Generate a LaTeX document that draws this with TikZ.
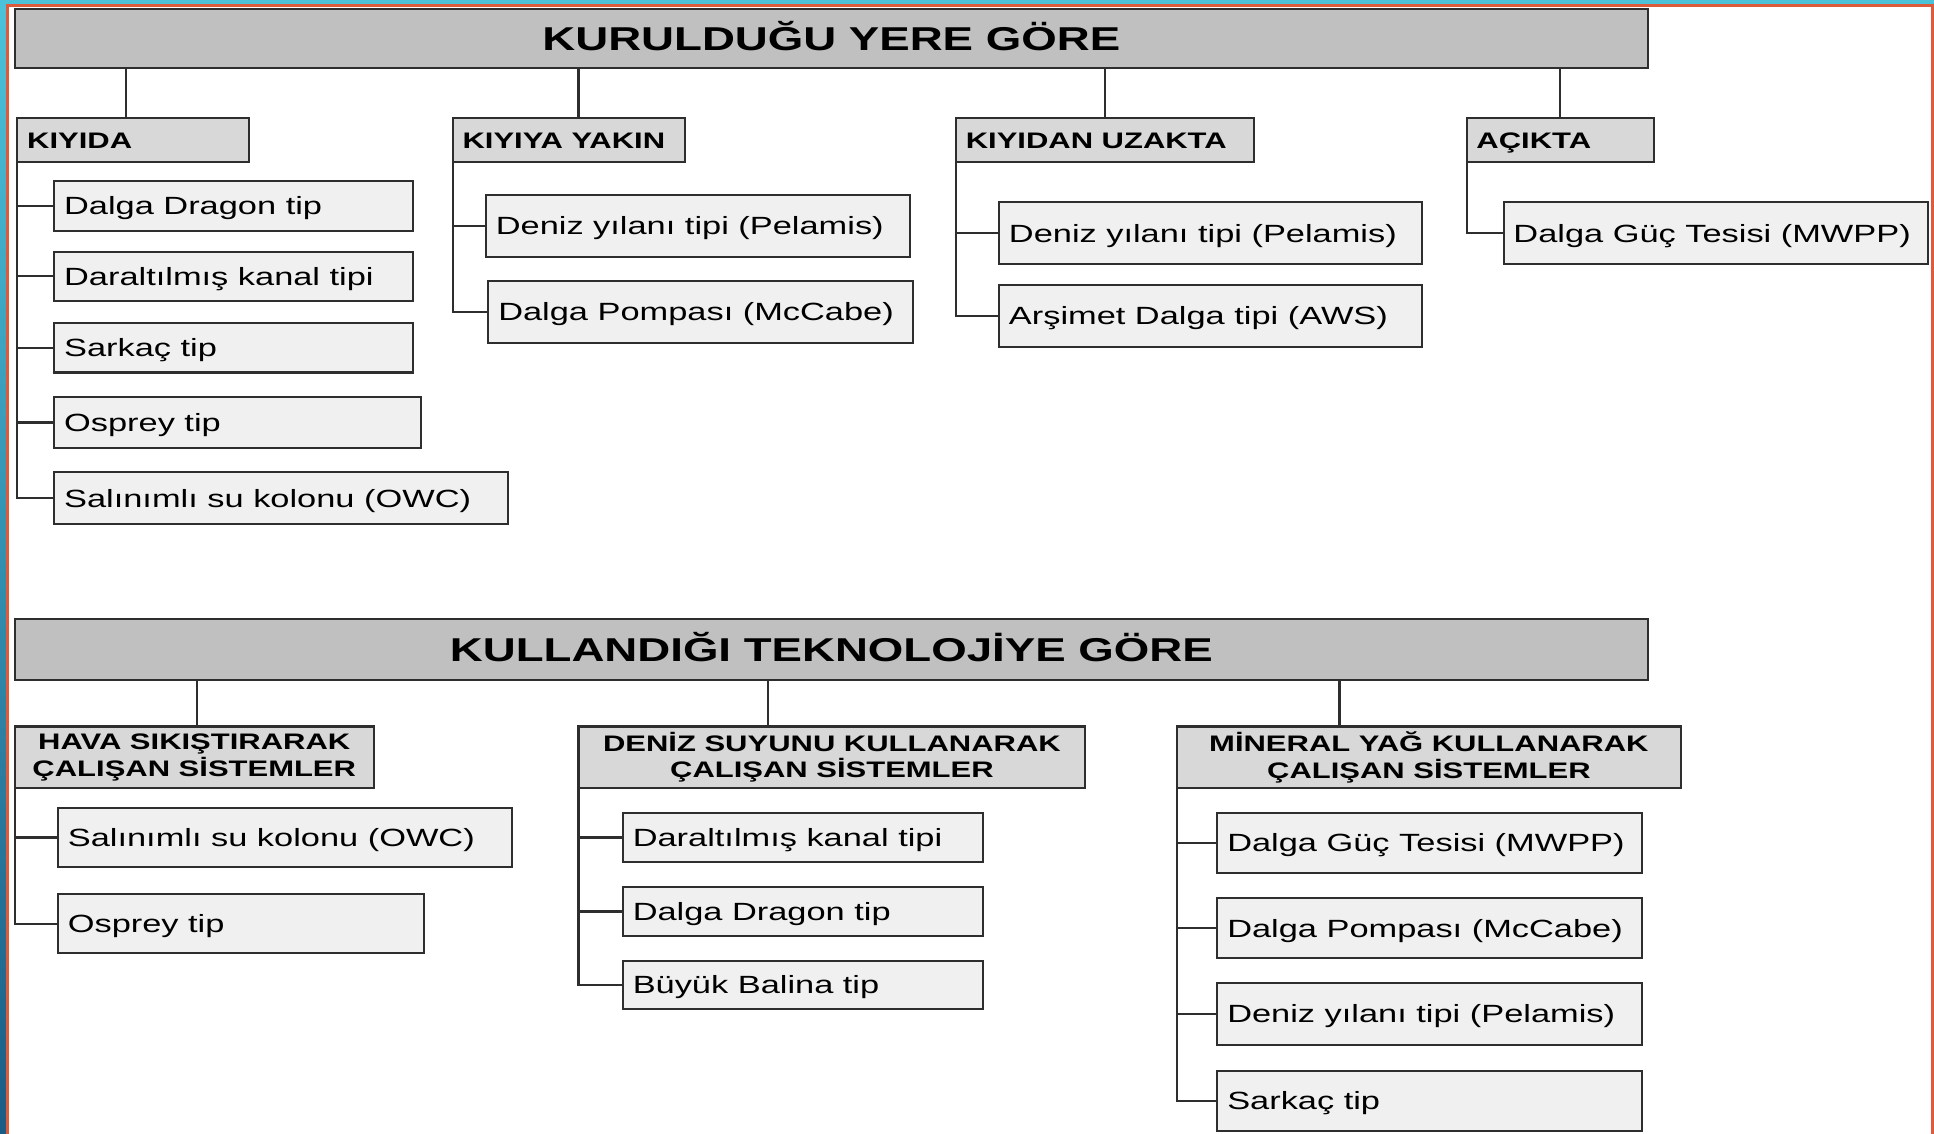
\documentclass[tikz,border=0pt]{standalone}
\usepackage{fontspec}
\setmainfont{Liberation Sans}[FakeStretch=1.38]
\definecolor{lc}{HTML}{2E2E2E}
\definecolor{hdrfill}{HTML}{C0C0C0}
\definecolor{catfill}{HTML}{D8D8D8}
\definecolor{itemfill}{HTML}{F0F0F0}
\definecolor{framecyan}{HTML}{4CC2D9}
\definecolor{frameblue}{HTML}{1B5C84}
\definecolor{frameorange}{HTML}{DD5B3C}
\newcommand\mystrut{\rule[-0.284em]{0pt}{1.284em}}
\newcommand\lbox[7]{%
  \pgfmathsetmacro\mybw{#5-#3}%
  \pgfmathsetmacro\mybh{#6-#4}%
  \pgfmathsetmacro\mybx{(#3+#5)/2}%
  \pgfmathsetmacro\myby{(#4+#6)/2}%
  \pgfmathsetmacro\mytw{#5-#3-16}%
  \node[#1, minimum width=\mybw pt, minimum height=\mybh pt] (#2) at (\mybx,\myby) {\makebox[\mytw pt][l]{\mystrut#7}};%
}
\newcommand\cbox[7]{%
  \pgfmathsetmacro\mybw{#5-#3}%
  \pgfmathsetmacro\mybh{#6-#4}%
  \pgfmathsetmacro\mybx{(#3+#5)/2}%
  \pgfmathsetmacro\myby{(#4+#6)/2}%
  \node[#1, minimum width=\mybw pt, minimum height=\mybh pt] (#2) at (\mybx,\myby) {#7};%
}
\begin{document}
\begin{tikzpicture}[x=1pt,y=-1pt,
  base/.style={draw=lc, line width=1.7pt, inner sep=0pt, outer sep=0pt, text=black},
  hdr/.style={base, fill=hdrfill, font=\fontsize{26.8}{30}\selectfont\bfseries},
  cat/.style={base, fill=catfill, font=\fontsize{18.2}{21.5}\selectfont\bfseries},
  cattwo/.style={cat, align=center},
  itm/.style={base, fill=itemfill, font=\fontsize{20.2}{24}\selectfont},
  conn/.style={draw=lc, line width=1.7pt}]
\useasboundingbox (0,0) rectangle (1568,919);
\fill[white] (0,0) rectangle (1568,919);

% ---------- top section ----------
\cbox{hdr}{hdrA}{12}{7}{1336}{55}{\mystrut KURULDUĞU YERE GÖRE}
\lbox{cat}{catA1}{14}{96}{202}{131}{KIYIDA}
\lbox{cat}{catA2}{367}{96}{555}{131}{KIYIYA YAKIN}
\lbox{cat}{catA3}{775}{96}{1017}{131}{KIYIDAN UZAKTA}
\lbox{cat}{catA4}{1189}{96}{1341}{131}{AÇIKTA}

\lbox{itm}{a11}{44}{147}{335}{187}{Dalga Dragon tip}
\lbox{itm}{a12}{44}{204}{335}{244}{Daraltılmış kanal tipi}
\lbox{itm}{a13}{44}{262}{335}{302}{Sarkaç tip}
\lbox{itm}{a14}{44}{322}{341}{363}{Osprey tip}
\lbox{itm}{a15}{44}{383}{412}{425}{Salınımlı su kolonu (OWC)}

\lbox{itm}{a21}{394}{158}{738}{208}{Deniz yılanı tipi (Pelamis)}
\lbox{itm}{a22}{396}{228}{740}{278}{Dalga Pompası (McCabe)}

\lbox{itm}{a31}{810}{164}{1153}{214}{Deniz yılanı tipi (Pelamis)}
\lbox{itm}{a32}{810}{231}{1153}{281}{Arşimet Dalga tipi (AWS)}

\lbox{itm}{a41}{1219}{164}{1563}{214}{Dalga Güç Tesisi (MWPP)}

\draw[conn] ([xshift=-6pt]catA1.north) -- ([xshift=-6pt]catA1.north |- hdrA.south);
\draw[conn] ([xshift=8pt]catA2.north) -- ([xshift=8pt]catA2.north |- hdrA.south);
\draw[conn] (catA3.north) -- (catA3.north |- hdrA.south);
\draw[conn] (catA4.north) -- (catA4.north |- hdrA.south);

\foreach \i in {a11,a12,a13,a14,a15} \draw[conn] (catA1.south west) |- (\i.west);
\foreach \i in {a21,a22} \draw[conn] (catA2.south west) |- (\i.west);
\foreach \i in {a31,a32} \draw[conn] (catA3.south west) |- (\i.west);
\draw[conn] (catA4.south west) |- (a41.west);

% ---------- bottom section ----------
\cbox{hdr}{hdrB}{12}{502}{1336}{551}{\mystrut KULLANDIĞI TEKNOLOJİYE GÖRE}
\cbox{cattwo}{catB1}{12}{589}{303}{639}{HAVA SIKIŞTIRARAK\\ÇALIŞAN SİSTEMLER}
\cbox{cattwo}{catB2}{469}{589}{880}{639}{DENİZ SUYUNU KULLANARAK\\ÇALIŞAN SİSTEMLER}
\cbox{cattwo}{catB3}{954}{589}{1363}{639}{MİNERAL YAĞ KULLANARAK\\ÇALIŞAN SİSTEMLER}

\lbox{itm}{b11}{47}{655}{415}{703}{Salınımlı su kolonu (OWC)}
\lbox{itm}{b12}{47}{725}{344}{773}{Osprey tip}

\lbox{itm}{b21}{505}{659}{797}{699}{Daraltılmış kanal tipi}
\lbox{itm}{b22}{505}{719}{797}{759}{Dalga Dragon tip}
\lbox{itm}{b23}{505}{779}{797}{818}{Büyük Balina tip}

\lbox{itm}{b31}{987}{659}{1331}{708}{Dalga Güç Tesisi (MWPP)}
\lbox{itm}{b32}{987}{728}{1331}{777}{Dalga Pompası (McCabe)}
\lbox{itm}{b33}{987}{797}{1331}{847}{Deniz yılanı tipi (Pelamis)}
\lbox{itm}{b34}{987}{868}{1331}{917}{Sarkaç tip}

\draw[conn] ([xshift=2.5pt]catB1.north) -- ([xshift=2.5pt]catB1.north |- hdrB.south);
\draw[conn] ([xshift=-51.5pt]catB2.north) -- ([xshift=-51.5pt]catB2.north |- hdrB.south);
\draw[conn] ([xshift=-72.5pt]catB3.north) -- ([xshift=-72.5pt]catB3.north |- hdrB.south);

\foreach \i in {b11,b12} \draw[conn] (catB1.south west) |- (\i.west);
\foreach \i in {b21,b22,b23} \draw[conn] (catB2.south west) |- (\i.west);
\foreach \i in {b31,b32,b33,b34} \draw[conn] (catB3.south west) |- (\i.west);

% ---------- frame ----------
\shade[top color=framecyan, bottom color=frameblue] (0,0) rectangle (5,919);
\fill[framecyan] (0,0) rectangle (1568,3.5);
\fill[frameorange] (5,3.5) rectangle (7.3,919);
\fill[frameorange] (5,3.5) rectangle (1568,5.8);
\fill[frameorange] (1565.6,3.5) rectangle (1568,919);
\end{tikzpicture}
\end{document}
